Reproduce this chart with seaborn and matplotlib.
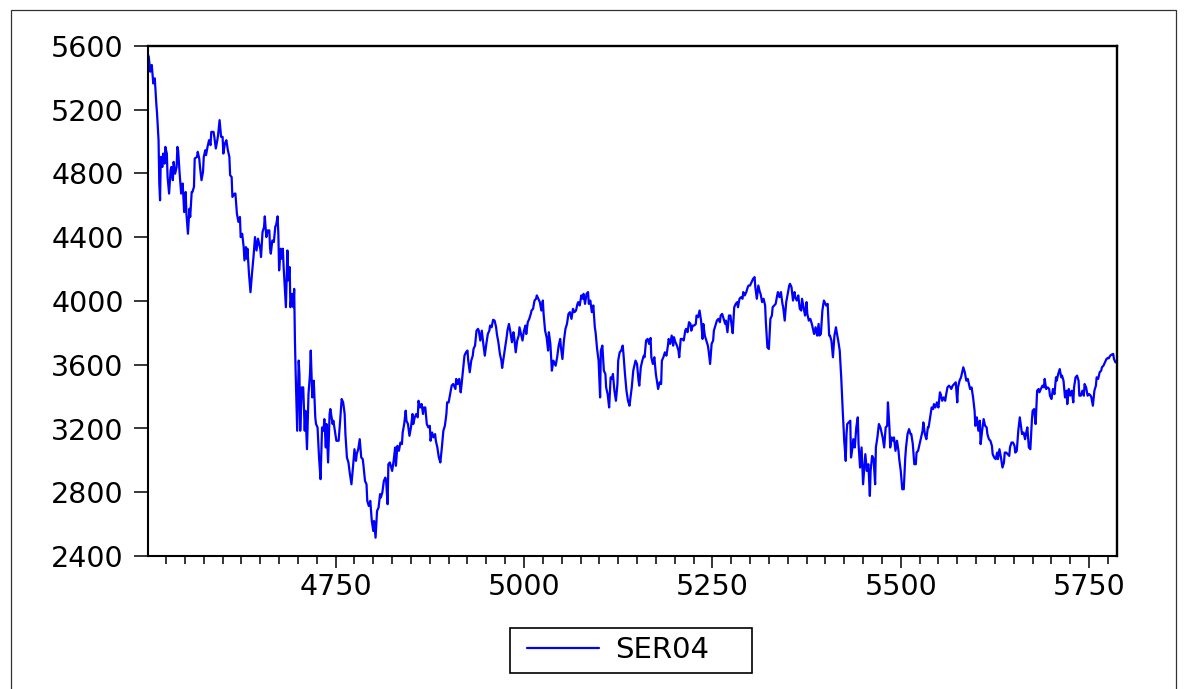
import numpy as np
import pandas as pd
import seaborn as sns
import matplotlib
matplotlib.use("Agg")
import matplotlib.pyplot as plt
from matplotlib.ticker import MultipleLocator, FixedLocator
from matplotlib.patches import Rectangle
from matplotlib.lines import Line2D
from matplotlib.legend_handler import HandlerLine2D

# SER04 observations, (observation number, value)
seg_a = [
    (4501, 5545), (4502, 5533), (4504, 5439), (4506, 5481), (4508, 5365), (4510, 5397),
    (4512, 5240), (4513, 5177), (4515, 5009), (4516, 4737), (4517, 4632), (4518, 4904),
    (4520, 4841), (4521, 4925), (4523, 4862), (4524, 4967), (4526, 4925), (4527, 4778),
    (4529, 4674), (4531, 4820), (4532, 4841), (4534, 4758), (4535, 4873), (4537, 4799),
    (4539, 4841), (4540, 4967), (4541, 4946), (4543, 4799), (4545, 4674), (4547, 4737),
    (4549, 4558), (4551, 4684), (4552, 4548), (4554, 4422), (4556, 4579), (4557, 4527),
    (4559, 4684), (4560, 4684), (4562, 4716), (4563, 4894), (4566, 4904), (4567, 4936),
    (4569, 4894), (4570, 4841), (4572, 4758), (4574, 4810), (4575, 4904), (4577, 4946),
    (4578, 4915), (4580, 4967), (4582, 5009), (4584, 4978), (4585, 5061), (4588, 5061),
    (4589, 5030), (4591, 4957), (4593, 5009), (4594, 5040), (4596, 5135), (4598, 5030),
    (4600, 5030), (4601, 4925), (4603, 4988), (4605, 5009), (4607, 4946), (4609, 4904),
    (4610, 4789), (4612, 4778), (4613, 4653), (4616, 4674), (4617, 4674), (4619, 4548),
    (4621, 4496), (4623, 4527), (4624, 4401), (4626, 4422), (4628, 4338), (4629, 4255),
    (4631, 4338), (4632, 4265), (4633, 4328), (4635, 4171), (4637, 4055), (4639, 4171),
    (4641, 4276), (4643, 4401), (4645, 4317), (4647, 4391), (4650, 4328), (4651, 4276),
    (4653, 4433), (4655, 4464), (4656, 4531), (4658, 4401), (4660, 4443), (4662, 4443),
    (4663, 4328), (4664, 4297), (4666, 4380), (4668, 4370), (4670, 4468), (4671, 4475),
    (4673, 4531), (4674, 4422), (4675, 4192), (4677, 4328), (4678, 4265), (4680, 4328),
    (4681, 4213), (4683, 4045), (4684, 3961), (4686, 4317), (4687, 4129), (4689, 4213),
    (4690, 3961), (4692, 4045), (4694, 3961), (4695, 4076), (4696, 3752), (4697, 3542),
    (4699, 3186), (4701, 3626), (4702, 3542), (4703, 3186), (4705, 3458), (4707, 3458),
    (4709, 3186), (4710, 3311), (4712, 3070), (4714, 3416), (4716, 3542), (4717, 3689),
    (4719, 3395), (4721, 3500), (4723, 3270), (4724, 3228), (4726, 3207), (4728, 3018),
    (4730, 2882), (4732, 3207), (4734, 3186), (4735, 3259), (4737, 3081), (4738, 3228),
    (4740, 2987), (4742, 3291), (4743, 3322), (4746, 3228), (4747, 3249), (4749, 3186),
    (4751, 3123), (4754, 3123), (4756, 3249), (4758, 3385), (4760, 3364), (4762, 3291),
    (4763, 3165), (4765, 3018), (4767, 2987), (4769, 2913), (4771, 2850), (4773, 2955),
    (4775, 3070), (4777, 2997), (4778, 3039), (4780, 3070), (4782, 3133), (4784, 3018),
    (4786, 3008), (4787, 2966), (4789, 2871), (4791, 2850), (4792, 2746), (4794, 2714),
    (4796, 2746), (4798, 2620), (4800, 2557), (4801, 2620), (4803, 2515), (4805, 2683),
    (4807, 2704), (4809, 2788), (4810, 2767), (4812, 2798), (4814, 2871), (4816, 2892),
    (4817, 2871), (4819, 2725), (4820, 2976),
]

seg_b = [
    (4822, 2987), (4825, 2934), (4827, 2997), (4829, 3081), (4830, 2966), (4832, 3091),
    (4834, 3060), (4836, 3112), (4838, 3102), (4839, 3175), (4841, 3228), (4843, 3312),
    (4844, 3249), (4846, 3228), (4848, 3154), (4850, 3207), (4852, 3291), (4853, 3228),
    (4855, 3270), (4857, 3291), (4859, 3270), (4860, 3374), (4862, 3332), (4864, 3354),
    (4866, 3291), (4867, 3332), (4869, 3332), (4871, 3228), (4873, 3207), (4875, 3217),
    (4876, 3123), (4878, 3175), (4880, 3144), (4882, 3165), (4883, 3123), (4885, 3081),
    (4887, 3018), (4889, 2987), (4891, 3081), (4893, 3186), (4895, 3217), (4897, 3291),
    (4898, 3364), (4900, 3364),
]

seg_c = [
    (4902, 3416), (4904, 3469), (4906, 3479), (4909, 3448), (4910, 3511), (4912, 3479),
    (4914, 3511), (4916, 3427), (4917, 3469), (4919, 3563), (4921, 3657), (4923, 3678),
    (4925, 3689), (4926, 3626), (4928, 3553), (4930, 3626), (4932, 3657), (4933, 3699),
    (4935, 3720), (4937, 3814), (4939, 3825), (4940, 3814), (4942, 3752), (4944, 3814),
    (4946, 3731), (4948, 3657), (4950, 3731), (4952, 3793), (4954, 3814), (4955, 3846),
    (4957, 3835), (4959, 3882), (4961, 3877), (4963, 3835), (4964, 3793), (4966, 3741),
    (4968, 3668), (4970, 3626), (4971, 3580), (4973, 3647), (4975, 3710), (4977, 3773),
    (4978, 3814), (4980, 3856), (4982, 3804), (4984, 3741), (4986, 3804), (4987, 3773),
    (4989, 3678), (4991, 3752), (4993, 3783), (4994, 3835), (4996, 3793), (4998, 3752),
    (5000, 3814), (5002, 3846), (5003, 3793), (5005, 3867), (5007, 3888), (5009, 3919),
    (5010, 3940), (5012, 3951), (5014, 4003), (5016, 4014), (5017, 4035), (5019, 4014),
    (5021, 3993), (5023, 3940), (5025, 4003), (5026, 3919), (5028, 3814), (5030, 3773),
    (5032, 3689), (5033, 3804), (5035, 3731), (5037, 3563), (5039, 3626), (5040, 3615),
    (5042, 3594), (5044, 3647), (5046, 3720), (5048, 3762), (5049, 3710), (5051, 3636),
    (5053, 3752), (5055, 3825), (5057, 3856), (5059, 3919), (5061, 3930), (5063, 3888),
    (5065, 3951), (5067, 3930), (5069, 3940), (5071, 3982), (5072, 3993), (5074, 3972),
    (5076, 4035), (5078, 4014), (5079, 4045), (5081, 3982), (5083, 4045), (5085, 4056),
    (5086, 3982), (5088, 4003), (5090, 3930), (5092, 3972), (5094, 3835), (5095, 3804),
    (5097, 3699), (5099, 3626), (5101, 3395), (5102, 3689), (5104, 3720), (5106, 3563),
    (5108, 3542), (5109, 3458), (5111, 3416), (5113, 3332), (5115, 3521), (5117, 3511),
    (5118, 3542), (5120, 3437), (5122, 3374), (5124, 3479), (5125, 3626), (5127, 3678),
    (5129, 3689), (5131, 3720), (5132, 3668), (5134, 3542), (5136, 3437), (5138, 3374),
    (5140, 3343),
]

seg_d = [
    (5143, 3458), (5145, 3563), (5148, 3626), (5150, 3605), (5152, 3500), (5153, 3469),
    (5155, 3584), (5157, 3626), (5159, 3657), (5160, 3647), (5162, 3752), (5164, 3762),
    (5166, 3731), (5168, 3768), (5169, 3647), (5171, 3605), (5173, 3647), (5175, 3542),
    (5176, 3511), (5178, 3448), (5180, 3490), (5182, 3479), (5183, 3626), (5185, 3647),
    (5187, 3678), (5189, 3657), (5191, 3720), (5192, 3762), (5194, 3731), (5196, 3783),
    (5198, 3720), (5199, 3773), (5201, 3741), (5203, 3720), (5205, 3689), (5206, 3647),
    (5208, 3762), (5210, 3762), (5212, 3752), (5214, 3814), (5215, 3825), (5217, 3804),
    (5219, 3867), (5221, 3856), (5222, 3814), (5224, 3846), (5226, 3846), (5228, 3856),
    (5229, 3909), (5231, 3898), (5233, 3940), (5235, 3877), (5237, 3762), (5238, 3856),
    (5240, 3783), (5242, 3752), (5244, 3720), (5245, 3689), (5247, 3605), (5249, 3731),
    (5251, 3752), (5252, 3814), (5254, 3846), (5256, 3877), (5258, 3888), (5260, 3867),
    (5261, 3909), (5263, 3919), (5265, 3888), (5267, 3856), (5268, 3877), (5270, 3804),
    (5272, 3909), (5274, 3909), (5275, 3867), (5277, 3798), (5279, 3961), (5281, 3982),
    (5283, 3993), (5284, 3961), (5286, 4014), (5288, 4024), (5290, 4014), (5291, 4056),
    (5293, 4035), (5295, 4056), (5297, 4087), (5298, 4097), (5300, 4097), (5302, 4118),
    (5304, 4139), (5306, 4150), (5307, 4087), (5309, 4014), (5311, 4097), (5313, 4056),
    (5314, 4045), (5316, 3993), (5318, 4014), (5320, 3972), (5321, 3867), (5323, 3710),
    (5325, 3699), (5327, 3888), (5329, 3909), (5330, 3961), (5332, 3972), (5334, 3982),
    (5336, 4035), (5337, 4056), (5339, 4024), (5341, 4056), (5343, 3982), (5344, 3961),
    (5346, 3877), (5348, 3993), (5350, 4045), (5352, 4097), (5353, 4108), (5355, 4087),
    (5357, 4003), (5359, 4056), (5360, 4024), (5362, 4003), (5364, 4035), (5366, 3951),
    (5368, 3940), (5369, 4014), (5371, 3961), (5373, 3909), (5375, 3993), (5376, 3919),
    (5378, 3877), (5380, 3888), (5382, 3856), (5383, 3835), (5385, 3793), (5387, 3835),
    (5389, 3783), (5391, 3856), (5392, 3783), (5394, 3793), (5396, 3940), (5398, 4003),
    (5399, 3993), (5401, 3972), (5403, 3982), (5405, 3783), (5406, 3783), (5408, 3752),
    (5410, 3647), (5412, 3783), (5414, 3835), (5415, 3804), (5417, 3752), (5419, 3689),
]

seg_e = [
    (5421, 3521), (5423, 3311), (5425, 3123), (5427, 2997), (5428, 3165), (5429, 3228),
    (5431, 3238), (5433, 3249), (5434, 3018), (5436, 3081), (5437, 3133), (5439, 3081),
    (5441, 3207), (5443, 3270), (5444, 3102), (5446, 2955), (5448, 3081), (5450, 2850),
    (5452, 2976), (5453, 3039), (5455, 2934), (5457, 2976), (5459, 2777), (5460, 2934),
    (5462, 3028), (5464, 3008), (5466, 2850), (5467, 3081), (5469, 3144), (5471, 3228),
    (5473, 3207), (5475, 3165), (5476, 3144), (5478, 3081), (5480, 3207), (5482, 3217),
    (5483, 3364), (5485, 3207), (5486, 3081), (5488, 3144), (5490, 3123), (5491, 3144),
    (5493, 3060), (5495, 3123), (5497, 3060), (5498, 3008), (5500, 2934), (5502, 2819),
    (5504, 2819), (5506, 3018), (5507, 3081), (5509, 3165), (5511, 3196), (5513, 3165),
    (5514, 3165), (5516, 3102), (5518, 2976), (5520, 2976), (5521, 3049), (5523, 3060),
    (5525, 3102), (5527, 3144), (5529, 3186), (5530, 3238), (5532, 3165), (5534, 3133),
    (5536, 3207), (5537, 3207), (5539, 3270), (5541, 3332), (5543, 3322), (5544, 3353),
    (5546, 3332), (5548, 3364), (5550, 3332), (5552, 3427), (5553, 3416), (5555, 3374),
    (5557, 3395), (5559, 3374), (5560, 3406), (5562, 3458), (5564, 3469), (5566, 3458),
    (5567, 3448), (5569, 3469), (5571, 3479), (5573, 3490), (5575, 3364), (5576, 3458),
    (5578, 3500), (5580, 3521), (5582, 3563), (5583, 3584), (5585, 3553), (5587, 3500),
    (5589, 3511), (5591, 3469), (5592, 3448), (5594, 3458), (5596, 3395), (5598, 3311),
    (5599, 3217), (5601, 3270), (5603, 3186), (5605, 3249), (5606, 3102), (5608, 3186),
    (5610, 3259), (5612, 3217), (5614, 3207), (5615, 3165), (5617, 3133), (5619, 3123),
    (5621, 3091), (5622, 3039), (5624, 3018), (5626, 3008), (5628, 3049), (5629, 3008),
    (5631, 3070), (5633, 3018), (5635, 2955), (5637, 2987), (5638, 3049), (5640, 3049),
    (5642, 3039), (5644, 3028), (5645, 3081), (5647, 3112), (5649, 3112), (5651, 3091),
    (5652, 3049), (5654, 3060), (5656, 3186), (5658, 3270),
]

seg_f = [
    (5661, 3165), (5663, 3175), (5665, 3133), (5667, 3186), (5668, 3207), (5670, 3081),
    (5672, 3070), (5674, 3249), (5675, 3311), (5677, 3322), (5679, 3228), (5681, 3437),
    (5683, 3448), (5684, 3427), (5686, 3448), (5688, 3469), (5690, 3458), (5691, 3511),
    (5693, 3448), (5695, 3458), (5697, 3448), (5698, 3406), (5700, 3385), (5702, 3448),
    (5704, 3416), (5706, 3521), (5707, 3500), (5709, 3542), (5711, 3573), (5713, 3521),
    (5714, 3532), (5716, 3500), (5718, 3395), (5720, 3437), (5721, 3353), (5723, 3448),
    (5725, 3406), (5727, 3437), (5729, 3364), (5730, 3458), (5732, 3521), (5734, 3532),
    (5736, 3500), (5737, 3406), (5739, 3406), (5741, 3437), (5743, 3406), (5744, 3479),
    (5746, 3458), (5748, 3406), (5750, 3416), (5752, 3406), (5753, 3395), (5755, 3343),
    (5757, 3437), (5759, 3469), (5760, 3521), (5762, 3511), (5764, 3553), (5766, 3563),
    (5767, 3584), (5769, 3594), (5771, 3615), (5773, 3636), (5775, 3643), (5776, 3640),
    (5778, 3657), (5780, 3664), (5782, 3668), (5783, 3636), (5785, 3615),
]

x_ticks = [4750, 5000, 5250, 5500, 5750]
y_ticks = [2400, 2800, 3200, 3600, 4000, 4400, 4800, 5200, 5600]
series_name = "SER04"

records = seg_a + seg_b + seg_c + seg_d + seg_e + seg_f
df = pd.DataFrame(records, columns=["obs", series_name])

sns.set_theme(style="white")
plt.rcParams["font.family"] = ["DejaVu Sans"]
plt.rcParams["text.color"] = "black"

W, H = 1186, 689
fig = plt.figure(figsize=(W / 100, H / 100), dpi=100)
fig.patch.set_facecolor("white")
ax = fig.add_axes([148 / W, 1 - 556 / H, (1117 - 148) / W, (556 - 46) / H])
ax.set_facecolor("white")

line_w = 1.6
sns.lineplot(data=df, x="obs", y=series_name, ax=ax, color="#0000FF",
             linewidth=line_w, estimator=None, sort=False, label=series_name)

ax.set_xlim(4501, 5787)
ax.set_ylim(2400, 5600)
ax.set_xlabel("")
ax.set_ylabel("")

ax.xaxis.set_major_locator(FixedLocator(x_ticks))
ax.xaxis.set_minor_locator(MultipleLocator(25))
ax.yaxis.set_major_locator(FixedLocator(y_ticks))
ax.set_xticklabels([str(t) for t in x_ticks])
ax.set_yticklabels([str(t) for t in y_ticks])

ax.tick_params(axis="x", which="major", direction="out", length=8.5, width=1.1,
               color="black", labelsize=20.5, pad=4, bottom=True)
ax.tick_params(axis="x", which="minor", direction="out", length=5.5, width=1.1,
               color="black", bottom=True)
ax.tick_params(axis="y", which="major", direction="out", length=10, width=1.1,
               color="black", labelsize=20.5, pad=7.5, left=True)
ax.tick_params(colors="black", labelcolor="black")

for side, sp in ax.spines.items():
    sp.set_visible(True)
    sp.set_color("black")
    sp.set_linewidth(1.7 if side in ("top", "right") else 1.5)

# legend box below the plot, handle inset from the left edge
ax.get_legend().remove()
leg_fs = 21
handle_line = Line2D([], [], color="#0000FF", linewidth=line_w)
leg = fig.legend([handle_line], [series_name], loc="center",
                 bbox_to_anchor=(510 / W, 1 - 673 / H, (752 - 510) / W, 45 / H),
                 mode="expand", fontsize=leg_fs, frameon=True, fancybox=False,
                 handlelength=2.76, handletextpad=0.55, borderpad=0.29, borderaxespad=0,
                 handler_map={Line2D: HandlerLine2D(xpad=0.29)})
frame = leg.get_frame()
frame.set_edgecolor("black")
frame.set_linewidth(1.2)
frame.set_facecolor("white")
frame.set_alpha(1)
for txt in leg.get_texts():
    txt.set_color("black")

# outer frame around the whole graph
fig.patches.append(Rectangle((11 / W, -0.02), (1176 - 11) / W, 1.02 - 10 / H,
                             transform=fig.transFigure, fill=False,
                             edgecolor="#333333", linewidth=0.9))

fig.savefig("out.png", dpi=100, facecolor="white")
